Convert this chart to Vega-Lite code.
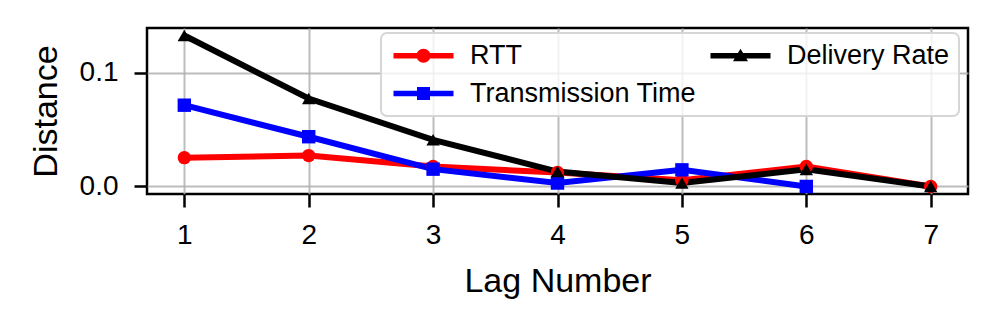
{
  "$schema": "https://vega.github.io/schema/vega-lite/v6.json",
  "width": 821,
  "height": 166,
  "autosize": {"type": "none"},
  "padding": {"left": 147, "top": 28, "right": 28, "bottom": 134},
  "background": "white",
  "config": {
    "view": {"stroke": "black", "strokeWidth": 2.5},
    "font": "Liberation Sans",
    "axis": {
      "labelFont": "Liberation Sans",
      "labelFontSize": 28,
      "labelColor": "black",
      "titleFont": "Liberation Sans",
      "titleFontSize": 34,
      "titleFontWeight": "normal",
      "titleColor": "black",
      "tickColor": "black",
      "tickWidth": 2.5,
      "tickSize": 13,
      "domain": false,
      "gridColor": "#b0b0b0",
      "gridWidth": 2,
      "gridOpacity": 0.85
    }
  },
  "data": {
    "values": [
      {"lag": 1, "series": "RTT", "distance": 0.0253},
      {"lag": 2, "series": "RTT", "distance": 0.0271},
      {"lag": 3, "series": "RTT", "distance": 0.0175},
      {"lag": 4, "series": "RTT", "distance": 0.0122},
      {"lag": 5, "series": "RTT", "distance": 0.0055},
      {"lag": 6, "series": "RTT", "distance": 0.0175},
      {"lag": 7, "series": "RTT", "distance": 0.0},
      {"lag": 1, "series": "Transmission Time", "distance": 0.0714},
      {"lag": 2, "series": "Transmission Time", "distance": 0.0437},
      {"lag": 3, "series": "Transmission Time", "distance": 0.0152},
      {"lag": 4, "series": "Transmission Time", "distance": 0.003},
      {"lag": 5, "series": "Transmission Time", "distance": 0.0146},
      {"lag": 6, "series": "Transmission Time", "distance": 0.0},
      {"lag": 1, "series": "Delivery Rate", "distance": 0.1326},
      {"lag": 2, "series": "Delivery Rate", "distance": 0.0773},
      {"lag": 3, "series": "Delivery Rate", "distance": 0.041},
      {"lag": 4, "series": "Delivery Rate", "distance": 0.0131},
      {"lag": 5, "series": "Delivery Rate", "distance": 0.003},
      {"lag": 6, "series": "Delivery Rate", "distance": 0.015},
      {"lag": 7, "series": "Delivery Rate", "distance": 0.0}
    ]
  },
  "encoding": {
    "x": {
      "field": "lag",
      "type": "quantitative",
      "title": "Lag Number",
      "scale": {"domain": [0.7, 7.3], "nice": false, "zero": false},
      "axis": {"values": [1, 2, 3, 4, 5, 6, 7], "format": "d", "labelPadding": 14, "titlePadding": 15, "labelFlush": false}
    },
    "y": {
      "field": "distance",
      "type": "quantitative",
      "title": "Distance",
      "scale": {"domain": [-0.00663, 0.13923], "nice": false, "zero": false},
      "axis": {"values": [0, 0.1], "format": ".1f", "labelPadding": 16, "titlePadding": 16, "labelFlush": false}
    },
    "color": {
      "field": "series",
      "type": "nominal",
      "scale": {"domain": ["RTT", "Transmission Time", "Delivery Rate"], "range": ["#ff0000", "#0000ff", "#000000"]},
      "legend": {
        "title": null,
        "orient": "none",
        "legendX": 234,
        "legendY": 5,
        "columns": 2,
        "labelFont": "Liberation Sans",
        "labelFontSize": 27,
        "labelColor": "black",
        "labelLimit": 400,
        "symbolSize": 400,
        "symbolOffset": 20,
        "symbolStrokeWidth": 0,
        "labelOffset": 33,
        "columnPadding": 10,
        "rowPadding": 10,
        "padding": 9,
        "fillColor": "rgba(255,255,255,0.8)",
        "strokeColor": "#d6d6d6",
        "cornerRadius": 6,
        "encode": {
          "symbols": {
            "update": {
              "shape": {"signal": "datum.value === 'RTT' ? 'M-3,-0.28H3V0.28H-3Z M-0.7,0A0.7,0.7,0,1,1,0.7,0A0.7,0.7,0,1,1,-0.7,0Z' : datum.value === 'Delivery Rate' ? 'M-3,-0.28H3V0.28H-3Z M0,-0.7L0.75,0.55H-0.75Z' : 'M-3,-0.28H3V0.28H-3Z M-0.65,-0.65H0.65V0.65H-0.65Z'"},
              "fillOpacity": {"value": 1},
              "opacity": {"value": 1},
              "strokeWidth": {"value": 0}
            }
          },
          "legend": {
            "update": {"strokeWidth": {"value": 2}}
          }
        }
      }
    }
  },
  "layer": [
    {
      "mark": {"type": "line", "strokeWidth": 6},
      "encoding": {
        "detail": {"field": "series"}
      }
    },
    {
      "mark": {"type": "point", "filled": true, "opacity": 1, "strokeWidth": 0, "size": 180},
      "encoding": {
        "shape": {
          "field": "series",
          "type": "nominal",
          "scale": {"domain": ["Delivery Rate", "RTT", "Transmission Time"], "range": ["triangle-up", "circle", "square"]},
          "legend": null
        }
      }
    }
  ]
}
